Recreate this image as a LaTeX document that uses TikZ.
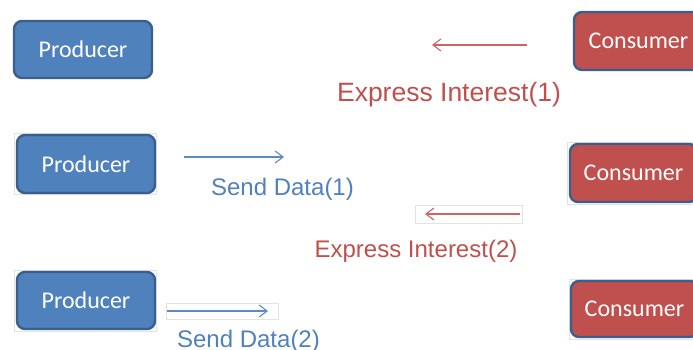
\documentclass[tikz,border=0pt]{standalone}
\usepackage{fontspec}
\setmainfont{Liberation Sans}
\newfontfamily\boxfont{Carlito}
\usetikzlibrary{arrows.meta}
\definecolor{pblue}{HTML}{4F81BD}
\definecolor{pborder}{HTML}{3A5F8D}
\definecolor{cred}{HTML}{C0504D}
\definecolor{ablue}{HTML}{5B8AC4}
\definecolor{ared}{HTML}{CC6663}
\definecolor{frame}{HTML}{E2E2E2}
\tikzset{
  prodbox/.style={draw=pborder, line width=2.4pt, fill=pblue, rounded corners=8pt,
    text=white, font=\boxfont\fontsize{24}{28}\selectfont, inner sep=0pt},
  consbox/.style={draw=pborder, line width=2.4pt, fill=cred, rounded corners=8pt,
    text=white, font=\boxfont\fontsize{24}{28}\selectfont, inner sep=0pt},
  bluelbl/.style={text=pblue, anchor=base, inner sep=0pt, font=\fontsize{24}{28}\selectfont},
  redlbl/.style={text=cred, anchor=base, inner sep=0pt, font=\fontsize{24}{28}\selectfont},
  bluearrow/.style={draw=ablue, line width=1.1pt, -{Straight Barb[length=8pt,width=12pt,line width=1.1pt]}},
  redarrow/.style={draw=ared, line width=1.1pt, -{Straight Barb[length=8pt,width=12pt,line width=1.1pt]}},
  faint/.style={draw=frame, line width=0.8pt}
}
\begin{document}
\begin{tikzpicture}[x=1pt,y=-1pt]
\useasboundingbox (0,0) rectangle (693,350);
\clip (0,0) rectangle (693,350);
\fill[white] (0,0) rectangle (693,350);
% faint frames of pasted pictures
\draw[faint] (14,133) rectangle (156,194);
\draw[faint] (14,270) rectangle (156,331);
\draw[faint] (567,142) rectangle (700,204);
\draw[faint] (569,279) rectangle (700,339);
\draw[faint] (415,205) rectangle (522,223);
\draw[faint] (166,303) rectangle (278,319);
% producers
\node[prodbox, minimum width=138pt, minimum height=57pt] (p1) at (83,49.5) {Producer};
\node[prodbox, minimum width=138pt, minimum height=58pt] (p2) at (86,164) {Producer};
\node[prodbox, minimum width=138pt, minimum height=57pt] (p3) at (86,300.5) {Producer};
% consumers
\node[consbox, minimum width=129pt, minimum height=58pt] (c1) at (638.5,41) {Consumer};
\node[consbox, minimum width=127pt, minimum height=58pt] (c2) at (633.5,173) {Consumer};
\node[consbox, minimum width=127pt, minimum height=56pt] (c3) at (634.5,309) {Consumer};
% arrow end points
\coordinate (a1s) at (527,45);  \coordinate (a1e) at (432,45);
\coordinate (a2s) at (184,157); \coordinate (a2e) at (284,157);
\coordinate (a3s) at (520,214); \coordinate (a3e) at (425,214);
\coordinate (a4s) at (167,311); \coordinate (a4e) at (268,311);
\draw[redarrow] (a1s) -- (a1e);
\draw[bluearrow] (a2s) -- (a2e);
\draw[redarrow] (a3s) -- (a3e);
\draw[bluearrow] (a4s) -- (a4e);
% labels
\node[redlbl, font=\fontsize{26.5}{30}\selectfont] (l1) at (449,102) {Express Interest(1)};
\node[bluelbl] (l2) at (282.5,195) {Send Data(1)};
\node[redlbl] (l3) at (416,257) {Express Interest(2)};
\node[bluelbl] (l4) at (248.5,347) {Send Data(2)};
\end{tikzpicture}
\end{document}
